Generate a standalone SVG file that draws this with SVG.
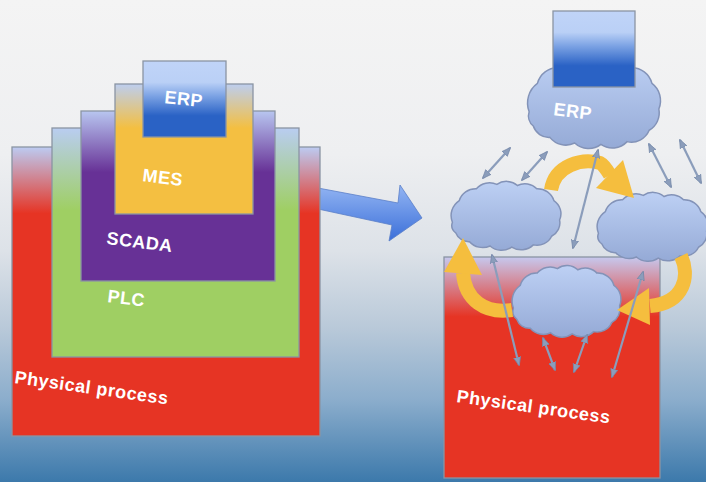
<svg xmlns="http://www.w3.org/2000/svg" width="706" height="482" viewBox="0 0 706 482">
<defs>
<style>
.box{stroke:#8a94a3;stroke-width:1.3}
.lbl{font-family:"Liberation Sans",Arial,sans-serif;font-weight:bold;font-size:18px;fill:#ffffff;letter-spacing:0.5px}
.ga{fill:none;stroke:#8b9dbb;stroke-width:2.2;marker-start:url(#ah);marker-end:url(#ah)}
.yb{fill:none;stroke:#f5be3e;stroke-width:14}
.yh{fill:#f5be3e}
</style>
<linearGradient id="bg" x1="0" y1="0" x2="0" y2="1">
<stop offset="0" stop-color="#f4f4f4"/>
<stop offset="0.32" stop-color="#eeeff1"/>
<stop offset="0.52" stop-color="#dde2e8"/>
<stop offset="0.68" stop-color="#b9c9d9"/>
<stop offset="0.83" stop-color="#8badcc"/>
<stop offset="1" stop-color="#3c79ab"/>
</linearGradient>
<linearGradient id="gPhys" x1="0" y1="0" x2="0" y2="1">
<stop offset="0" stop-color="#bccbf2"/>
<stop offset="0.23" stop-color="#e63424"/>
<stop offset="1" stop-color="#e63424"/>
</linearGradient>
<linearGradient id="gPhys2" x1="0" y1="0" x2="0" y2="1">
<stop offset="0" stop-color="#c6c8ee"/>
<stop offset="0.27" stop-color="#e63424"/>
<stop offset="1" stop-color="#e63424"/>
</linearGradient>
<linearGradient id="gPlc" x1="0" y1="0" x2="0" y2="1">
<stop offset="0" stop-color="#b9cdf1"/>
<stop offset="0.36" stop-color="#9fcf63"/>
<stop offset="1" stop-color="#9fcf63"/>
</linearGradient>
<linearGradient id="gScada" x1="0" y1="0" x2="0" y2="1">
<stop offset="0" stop-color="#b8c6f0"/>
<stop offset="0.36" stop-color="#673196"/>
<stop offset="1" stop-color="#673196"/>
</linearGradient>
<linearGradient id="gMes" x1="0" y1="0" x2="0" y2="1">
<stop offset="0" stop-color="#bdceef"/>
<stop offset="0.34" stop-color="#f4bf41"/>
<stop offset="1" stop-color="#f4bf41"/>
</linearGradient>
<linearGradient id="gErp" x1="0" y1="0" x2="0" y2="1">
<stop offset="0" stop-color="#c0d4f8"/>
<stop offset="0.28" stop-color="#bad0f6"/>
<stop offset="0.45" stop-color="#7fa5e5"/>
<stop offset="0.72" stop-color="#2a62c5"/>
<stop offset="1" stop-color="#2a62c5"/>
</linearGradient>
<linearGradient id="gArrow" x1="0" y1="0" x2="0" y2="1">
<stop offset="0" stop-color="#93b5f3"/>
<stop offset="1" stop-color="#3b6fd9"/>
</linearGradient>
<linearGradient id="gCloud" x1="0" y1="0" x2="0" y2="1">
<stop offset="0" stop-color="#bdd0f4"/>
<stop offset="1" stop-color="#95aad6"/>
</linearGradient>
<path id="cloud" vector-effect="non-scaling-stroke" d="M3,40 A17,17 0 0 1 9,20 A15,15 0 0 1 24,9 A15,15 0 0 1 42,5 A14,14 0 0 1 60,6 A14,14 0 0 1 77,9 A15,15 0 0 1 92,20 A15,15 0 0 1 97,38 A14,14 0 0 1 90,53 A14,14 0 0 1 74,61 A15,15 0 0 1 55,63 A15,15 0 0 1 36,62 A15,15 0 0 1 18,58 A12,12 0 0 1 6,50 A9,9 0 0 1 3,40 Z" fill="url(#gCloud)" stroke="#8393b8" stroke-width="1.5"/>
<marker id="ah" viewBox="0 0 10 10" refX="9" refY="5" markerWidth="9" markerHeight="9" markerUnits="userSpaceOnUse" orient="auto-start-reverse">
<path d="M0,1 L10,5 L0,9 z" fill="#8b9dbb" stroke="#7487a8" stroke-width="0.8"/>
</marker>
</defs>
<rect x="0" y="0" width="706" height="482" fill="url(#bg)"/>

<g id="big-arrow">
<polygon points="318,188 398,203 400,185 422,218 389,241 392,225 318,209" fill="url(#gArrow)" stroke="#5a7fc8" stroke-width="0.8"/>
</g>

<g id="left-physical">
<rect class="box" x="12" y="147" width="308" height="289" fill="url(#gPhys)"/>
<text class="lbl" x="14" y="383" transform="rotate(8 14 383)">Physical process</text>
</g>
<g id="left-plc">
<rect class="box" x="52" y="128" width="247" height="229" fill="url(#gPlc)"/>
<text class="lbl" x="107" y="302" transform="rotate(7 107 302)">PLC</text>
</g>
<g id="left-scada">
<rect class="box" x="81" y="111" width="194" height="170" fill="url(#gScada)"/>
<text class="lbl" x="106" y="244" transform="rotate(7 106 244)">SCADA</text>
</g>
<g id="left-mes">
<rect class="box" x="115" y="84" width="138" height="130" fill="url(#gMes)"/>
<text class="lbl" x="142" y="181" transform="rotate(7 142 181)">MES</text>
</g>
<g id="left-erp">
<rect class="box" x="143" y="61" width="83" height="76" fill="url(#gErp)"/>
<text class="lbl" x="164" y="103" transform="rotate(6 164 103)">ERP</text>
</g>

<g id="right-physical">
<rect class="box" x="444" y="257" width="216" height="221" fill="url(#gPhys2)"/>
<text class="lbl" x="456" y="402" transform="rotate(8 456 402)">Physical process</text>
</g>
<g id="cloud-erp">
<use href="#cloud" transform="translate(525,55) scale(1.38,1.42)"/>
<text class="lbl" x="553" y="115" transform="rotate(7 553 115)">ERP</text>
</g>
<g id="right-erp-box">
<rect class="box" x="553" y="11" width="82" height="76" fill="url(#gErp)"/>
</g>
<g id="cloud-left">
<use href="#cloud" transform="translate(449,179) scale(1.14,1.08)"/>
</g>
<g id="cloud-right">
<use href="#cloud" transform="translate(595,190) scale(1.15,1.08)"/>
</g>
<g id="cloud-bottom">
<use href="#cloud" transform="translate(510,263) scale(1.13,1.125)"/>
</g>

<g id="connectors">
<path class="yb" d="M551,190 C555,165 582,158 600,163 C604,165 607,170 610,175"/>
<polygon class="yh" points="623,160 596,188 634,198"/>
<path class="yb" d="M681,256 C690,275 685,303 650,306"/>
<polygon class="yh" points="649,288 650,325 617,310"/>
<path class="yb" d="M512,310 C485,314 465,300 463,273"/>
<polygon class="yh" points="444,272 482,275 463,238"/>
<line class="ga" x1="483" y1="178" x2="510" y2="148"/>
<line class="ga" x1="522" y1="180" x2="547" y2="152"/>
<line class="ga" x1="573" y1="248" x2="598" y2="150"/>
<line class="ga" x1="649" y1="144" x2="671" y2="187"/>
<line class="ga" x1="680" y1="140" x2="701" y2="183"/>
<line class="ga" x1="492" y1="255" x2="519" y2="365"/>
<line class="ga" x1="543" y1="338" x2="555" y2="370"/>
<line class="ga" x1="587" y1="335" x2="574" y2="372"/>
<line class="ga" x1="643" y1="272" x2="612" y2="377"/>
</g>
</svg>
